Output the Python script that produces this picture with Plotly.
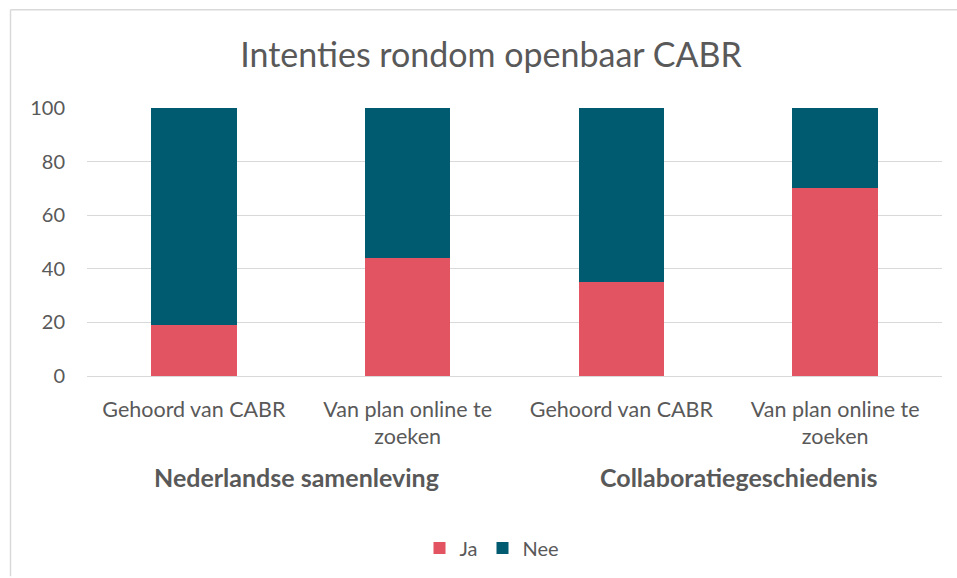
import plotly.graph_objects as go

categories = ["Gehoord van CABR", "Van plan online te<br>zoeken", "Gehoord van CABR", "Van plan online te<br>zoeken"]
groups = ["Nederlandse samenleving", "Collaboratiegeschiedenis"]
ja = [19, 44, 35, 70]
nee = [81, 56, 65, 30]
yticks = [0, 20, 40, 60, 80, 100]

W, H = 957, 578
L, R, T, B = 87, 15, 108, 201
pw, ph = W - L - R, H - T - B

def px(x):
    return (x - L) / pw

def py(y):
    return (H - B - y) / ph

xs = list(range(len(categories)))
fig = go.Figure()
fig.add_trace(go.Bar(x=xs, y=ja, name="Ja", marker_color="#E35462", marker_line_width=0))
fig.add_trace(go.Bar(x=xs, y=nee, name="Nee", marker_color="#005B70", marker_line_width=0))

font = "Lato, Open Sans, sans-serif"
grey = "#595959"
fig.update_layout(
    width=W, height=H, barmode="stack", bargap=0.6,
    margin=dict(l=L, r=R, t=T, b=B),
    paper_bgcolor="white", plot_bgcolor="white",
    title=dict(text="Intenties rondom openbaar CABR", x=491 / W, xanchor="center",
               y=1 - 55 / H, yanchor="middle",
               font=dict(family=font, size=34, color=grey)),
    xaxis=dict(tickmode="array", tickvals=xs, ticktext=categories, range=[-0.5, 3.5],
               showgrid=False, showline=False, ticks="", ticklabelstandoff=18,
               tickfont=dict(family=font, size=21.5, color=grey)),
    yaxis=dict(range=[0, 100], tickvals=yticks, showgrid=True, gridcolor="#D9D9D9",
               gridwidth=1, zeroline=True, zerolinecolor="#D9D9D9", zerolinewidth=1,
               tickfont=dict(family=font, size=20, color=grey), ticks="", ticklabelstandoff=21),
    legend=dict(orientation="h", x=px(492), xanchor="center", y=py(548), yanchor="middle",
                font=dict(family=font, size=20, color=grey), itemwidth=30,
                traceorder="normal"),
    showlegend=True,
)
group_x = [296, 739]
for g, gx in zip(groups, group_x):
    fig.add_annotation(x=px(gx), y=py(478), xref="paper", yref="paper", text="<b>" + g + "</b>",
                       showarrow=False, font=dict(family=font, size=25, color=grey),
                       xanchor="center", yanchor="middle")
fig.add_shape(type="line", xref="paper", yref="paper", x0=px(10.5), x1=px(957), y0=py(9.5), y1=py(9.5),
              line=dict(color="#D9D9D9", width=1.5))
fig.add_shape(type="line", xref="paper", yref="paper", x0=px(10.5), x1=px(10.5), y0=py(9.5), y1=py(578),
              line=dict(color="#D9D9D9", width=1.5))
fig.write_html("out.html", config={"displayModeBar": False},
               post_script="document.body.style.margin='0';")
